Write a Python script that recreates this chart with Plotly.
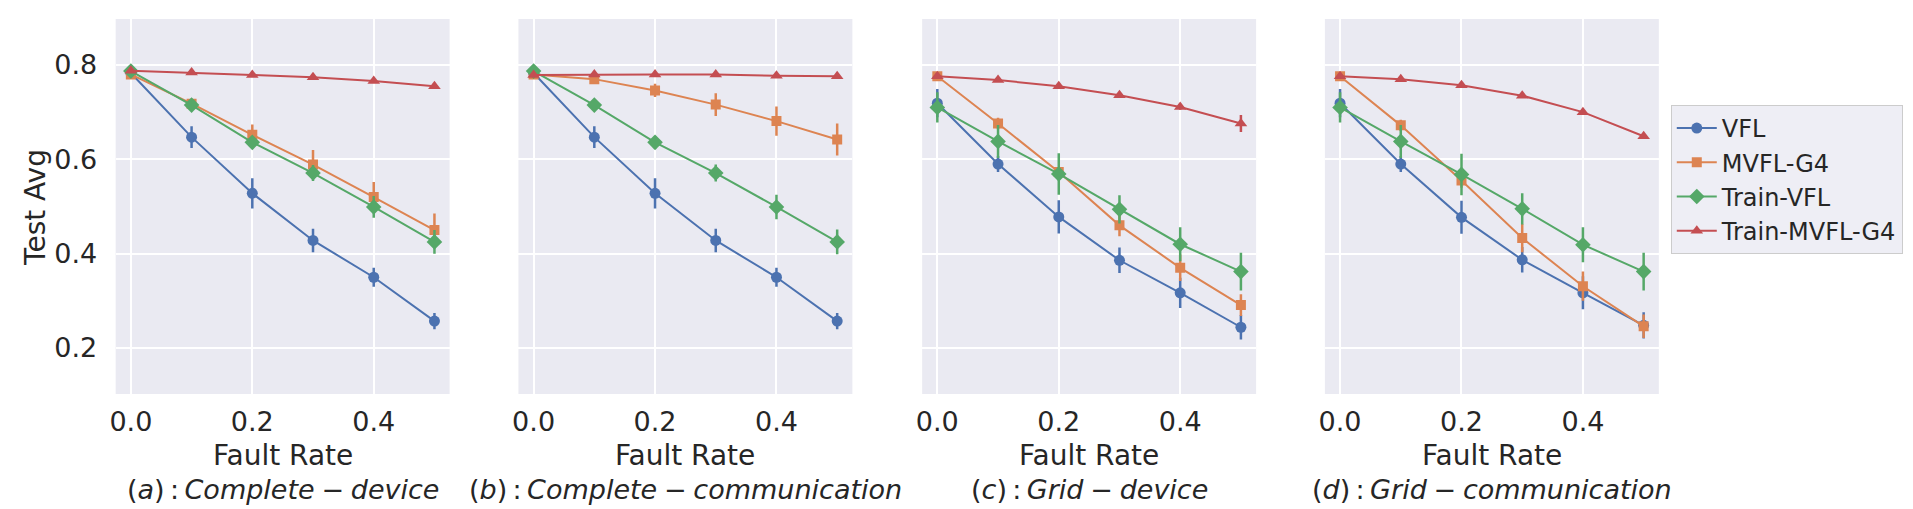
import plotly.graph_objects as go

# fault rates on the x axis
fault_rate = [0.0, 0.1, 0.2, 0.3, 0.4, 0.5]
x_ticks = [0.0, 0.2, 0.4]
y_ticks = [0.2, 0.4, 0.6, 0.8]

series_names = ["VFL", "MVFL-G4", "Train-VFL", "Train-MVFL-G4"]

# (a) Complete - device
vfl_a = [0.783, 0.647, 0.528, 0.428, 0.350, 0.257]
vfl_a_err = [0.005, 0.023, 0.032, 0.025, 0.020, 0.017]
mvfl_a = [0.780, 0.718, 0.652, 0.589, 0.520, 0.450]
mvfl_a_err = [0.005, 0.010, 0.022, 0.031, 0.032, 0.035]
tvfl_a = [0.787, 0.715, 0.636, 0.571, 0.499, 0.425]
tvfl_a_err = [0.004, 0.009, 0.012, 0.017, 0.023, 0.025]
tmvfl_a = [0.788, 0.784, 0.779, 0.774, 0.766, 0.755]
tmvfl_a_err = [0.003, 0.003, 0.003, 0.003, 0.004, 0.004]

# (b) Complete - communication
vfl_b = [0.783, 0.647, 0.528, 0.428, 0.350, 0.257]
vfl_b_err = [0.005, 0.023, 0.032, 0.025, 0.020, 0.017]
mvfl_b = [0.780, 0.770, 0.746, 0.716, 0.681, 0.642]
mvfl_b_err = [0.004, 0.007, 0.014, 0.024, 0.031, 0.034]
tvfl_b = [0.787, 0.715, 0.636, 0.571, 0.499, 0.425]
tvfl_b_err = [0.004, 0.008, 0.013, 0.018, 0.026, 0.026]
tmvfl_b = [0.779, 0.780, 0.780, 0.780, 0.777, 0.776]
tmvfl_b_err = [0.003, 0.003, 0.003, 0.003, 0.003, 0.003]

# (c) Grid - device
vfl_c = [0.719, 0.590, 0.478, 0.386, 0.317, 0.244]
vfl_c_err = [0.030, 0.017, 0.035, 0.027, 0.032, 0.026]
mvfl_c = [0.776, 0.676, 0.573, 0.460, 0.370, 0.291]
mvfl_c_err = [0.005, 0.012, 0.010, 0.023, 0.028, 0.023]
tvfl_c = [0.710, 0.638, 0.569, 0.494, 0.420, 0.362]
tvfl_c_err = [0.032, 0.035, 0.044, 0.030, 0.036, 0.040]
tmvfl_c = [0.776, 0.768, 0.755, 0.736, 0.711, 0.676]
tmvfl_c_err = [0.003, 0.004, 0.004, 0.005, 0.006, 0.018]

# (d) Grid - communication
vfl_d = [0.719, 0.590, 0.477, 0.387, 0.317, 0.248]
vfl_d_err = [0.030, 0.017, 0.035, 0.027, 0.035, 0.028]
mvfl_d = [0.776, 0.672, 0.555, 0.433, 0.331, 0.246]
mvfl_d_err = [0.005, 0.012, 0.015, 0.030, 0.031, 0.025]
tvfl_d = [0.710, 0.638, 0.568, 0.495, 0.419, 0.362]
tvfl_d_err = [0.032, 0.035, 0.044, 0.033, 0.037, 0.040]
tmvfl_d = [0.776, 0.770, 0.757, 0.735, 0.700, 0.649]
tmvfl_d_err = [0.003, 0.003, 0.004, 0.004, 0.005, 0.005]

panel_titles = [
    "(<i>a</i>)\u2009:\u2009<i>Complete</i>\u2005\u2212\u2005<i>device</i>",
    "(<i>b</i>)\u2009:\u2009<i>Complete</i>\u2005\u2212\u2005<i>communication</i>",
    "(<i>c</i>)\u2009:\u2009<i>Grid</i>\u2005\u2212\u2005<i>device</i>",
    "(<i>d</i>)\u2009:\u2009<i>Grid</i>\u2005\u2212\u2005<i>communication</i>",
]

panels = [
    [(vfl_a, vfl_a_err), (mvfl_a, mvfl_a_err), (tvfl_a, tvfl_a_err), (tmvfl_a, tmvfl_a_err)],
    [(vfl_b, vfl_b_err), (mvfl_b, mvfl_b_err), (tvfl_b, tvfl_b_err), (tmvfl_b, tmvfl_b_err)],
    [(vfl_c, vfl_c_err), (mvfl_c, mvfl_c_err), (tvfl_c, tvfl_c_err), (tmvfl_c, tmvfl_c_err)],
    [(vfl_d, vfl_d_err), (mvfl_d, mvfl_d_err), (tvfl_d, tvfl_d_err), (tmvfl_d, tmvfl_d_err)],
]

colors = ["#4C72B0", "#DD8452", "#55A868", "#C44E52"]
symbols = ["circle", "square", "diamond", "triangle-up"]
sizes = [11, 10, 12, 11]

W, H = 1913, 509
left_px = [102, 506, 911, 1315]
panel_w = 335
top_px, bottom_px = 11, 386
text_col = "#262626"
font = "DejaVu Sans"

fig = go.Figure()

for p, series in enumerate(panels):
    ax = "" if p == 0 else str(p + 1)
    for s, (vals, errs) in enumerate(series):
        fig.add_trace(go.Scatter(
            x=fault_rate, y=vals,
            error_y=dict(type="data", array=errs, visible=True,
                         color=colors[s], thickness=2.5, width=0),
            mode="lines+markers",
            name=series_names[s],
            line=dict(color=colors[s], width=2),
            marker=dict(color=colors[s], symbol=symbols[s], size=sizes[s]),
            xaxis="x" + ax, yaxis="y" + ax,
            showlegend=(p == 0),
        ))

layout = dict(
    width=W, height=H, autosize=False,
    margin=dict(l=0, r=0, t=0, b=0),
    paper_bgcolor="white",
    plot_bgcolor="#EAEAF2",
    font=dict(family=font, color=text_col, size=27),
    legend=dict(
        x=1662 / W, y=1 - 97 / H, xanchor="left", yanchor="top",
        bgcolor="rgba(234,234,242,0.8)", bordercolor="#CCCCCC", borderwidth=1,
        font=dict(size=24, color=text_col, family=font),
        tracegroupgap=2, itemwidth=40,
    ),
    annotations=[],
)

for p in range(4):
    ax = "" if p == 0 else str(p + 1)
    x0 = left_px[p] / W
    x1 = (left_px[p] + panel_w) / W
    layout["xaxis" + ax] = dict(
        domain=[x0, x1], range=[-0.025, 0.525],
        tickvals=x_ticks, tickformat=".1f",
        showgrid=True, gridcolor="white", gridwidth=1.5,
        zeroline=False, showline=False,
        ticks="outside", ticklen=4, tickcolor="rgba(0,0,0,0)",
        tickfont=dict(size=27, color=text_col, family=font),
        anchor="y" + ax,
    )
    layout["yaxis" + ax] = dict(
        domain=[1 - bottom_px / H, 1 - top_px / H], range=[0.1025, 0.8975],
        tickvals=y_ticks, tickformat=".1f",
        showticklabels=(p == 0),
        showgrid=True, gridcolor="white", gridwidth=1.5,
        zeroline=False, showline=False,
        ticks="outside" if p == 0 else "", ticklen=12, tickcolor="rgba(0,0,0,0)",
        tickfont=dict(size=27, color=text_col, family=font),
        anchor="x" + ax,
    )
    cx = (left_px[p] + panel_w / 2) / W
    layout["annotations"].append(dict(
        text="Fault Rate", x=cx, y=1 - 447 / H, xref="paper", yref="paper",
        xanchor="center", yanchor="middle", showarrow=False,
        font=dict(size=28, color=text_col, family=font),
    ))
    layout["annotations"].append(dict(
        text=panel_titles[p], x=cx, y=1 - 481 / H, xref="paper", yref="paper",
        xanchor="center", yanchor="middle", showarrow=False,
        font=dict(size=27, color=text_col, family=font),
    ))

layout["annotations"].append(dict(
    text="Test Avg", x=21 / W, y=1 - 199 / H, xref="paper", yref="paper",
    xanchor="center", yanchor="middle", showarrow=False, textangle=-90,
    font=dict(size=28, color=text_col, family=font),
))

fig.update_layout(**layout)
fig.write_html("out.html")
